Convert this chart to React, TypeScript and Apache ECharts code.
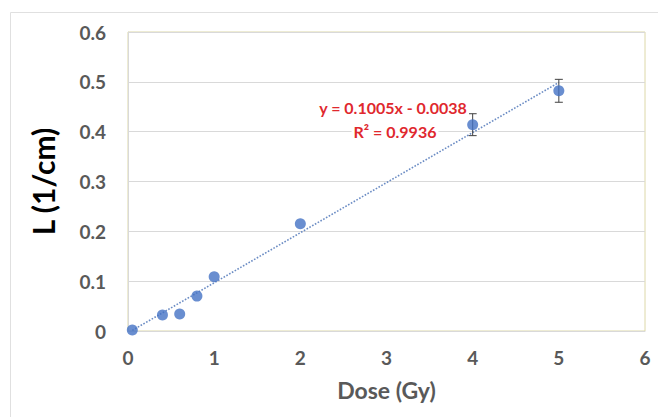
import React, { useEffect, useRef } from "react";
import * as echarts from "echarts";

const doseValues = [0.05, 0.4, 0.6, 0.8, 1.0, 2.0, 4.0, 5.0];
const lValues = [0.002, 0.032, 0.034, 0.07, 0.109, 0.215, 0.414, 0.482];
const lErrors = [0, 0, 0, 0, 0, 0, 0.022, 0.023];
const trendSlope = 0.1005;
const trendIntercept = -0.0038;
const trendRange = [0.05, 5.0];
const equationLines = ["y = 0.1005x - 0.0038", "R² = 0.9936"];

export default function App() {
  const ref = useRef<HTMLDivElement>(null);
  useEffect(() => {
    document.body.style.margin = "0";
    const chart = echarts.init(ref.current!, undefined, { renderer: "svg" });
    const points = doseValues.map((x, i) => [x, lValues[i]]);
    const errs = doseValues
      .map((x, i) => [x, lValues[i] - lErrors[i], lValues[i] + lErrors[i]])
      .filter((_, i) => lErrors[i] > 0);
    const trend = trendRange.map((x) => [x, trendSlope * x + trendIntercept]);
    const font = "Lato, 'Open Sans', sans-serif";
    chart.setOption({
      animation: false,
      backgroundColor: "#ffffff",
      grid: {
        left: 128,
        top: 32,
        right: 13,
        bottom: 86,
        show: true,
        borderColor: "#ddd8a8",
        borderWidth: 1,
      },
      xAxis: {
        type: "value",
        min: 0,
        max: 6,
        interval: 1,
        name: "Dose (Gy)",
        nameLocation: "middle",
        nameGap: 47,
        nameTextStyle: { fontFamily: font, fontWeight: "bold", fontSize: 23, color: "#595959" },
        axisLine: { show: true, lineStyle: { color: "#d9d9d9" } },
        axisTick: { show: false },
        splitLine: { show: false },
        axisLabel: { fontFamily: font, fontWeight: "bold", fontSize: 19, color: "#595959", margin: 17 },
      },
      yAxis: {
        type: "value",
        min: 0,
        max: 0.6,
        interval: 0.1,
        name: "L (1/cm)",
        nameLocation: "middle",
        nameGap: 70,
        nameTextStyle: { fontFamily: font, fontWeight: "bold", fontSize: 30, color: "#000000" },
        axisLine: { show: true, lineStyle: { color: "#d9d9d9" } },
        axisTick: { show: false },
        splitLine: { show: true, lineStyle: { color: "#d9d9d9" } },
        axisLabel: { fontFamily: font, fontWeight: "bold", fontSize: 19, color: "#595959", margin: 22 },
      },
      graphic: [
        {
          type: "rect",
          shape: { x: 10.5, y: 12.5, width: 660, height: 420 },
          style: { fill: "none", stroke: "#e0e0e0", lineWidth: 1 },
          silent: true,
          z: -1,
        },
        {
          type: "text",
          x: 393,
          y: 98,
          z: 10,
          style: {
            text: equationLines[0],
            fontFamily: font,
            fontWeight: "bold",
            fontSize: 16,
            fill: "#e0282e",
            align: "center",
            backgroundColor: "#ffffff",
            padding: [1, 2],
          },
        },
        {
          type: "text",
          x: 395,
          y: 122,
          z: 10,
          style: {
            text: equationLines[1],
            fontFamily: font,
            fontWeight: "bold",
            fontSize: 16,
            fill: "#e0282e",
            align: "center",
            backgroundColor: "#ffffff",
            padding: [1, 2],
          },
        },
      ],
      series: [
        {
          type: "line",
          data: trend,
          symbol: "none",
          lineStyle: { type: "dotted", color: "#6b8cc4", width: 1.6 },
          z: 2,
        },
        {
          type: "custom",
          data: errs,
          z: 3,
          renderItem: (params: any, api: any) => {
            const x = api.value(0);
            const lo = api.coord([x, api.value(1)]);
            const hi = api.coord([x, api.value(2)]);
            const w = 4;
            const st = { stroke: "#404040", lineWidth: 1 };
            return {
              type: "group",
              children: [
                { type: "line", shape: { x1: lo[0], y1: lo[1], x2: hi[0], y2: hi[1] }, style: st },
                { type: "line", shape: { x1: lo[0] - w, y1: lo[1], x2: lo[0] + w, y2: lo[1] }, style: st },
                { type: "line", shape: { x1: hi[0] - w, y1: hi[1], x2: hi[0] + w, y2: hi[1] }, style: st },
              ],
            };
          },
        },
        {
          type: "scatter",
          data: points,
          symbolSize: 11,
          itemStyle: { color: "#4472c4" },
          z: 4,
        },
      ],
    });
    return () => chart.dispose();
  }, []);
  return <div ref={ref} style={{ width: 658, height: 417 }} />;
}
